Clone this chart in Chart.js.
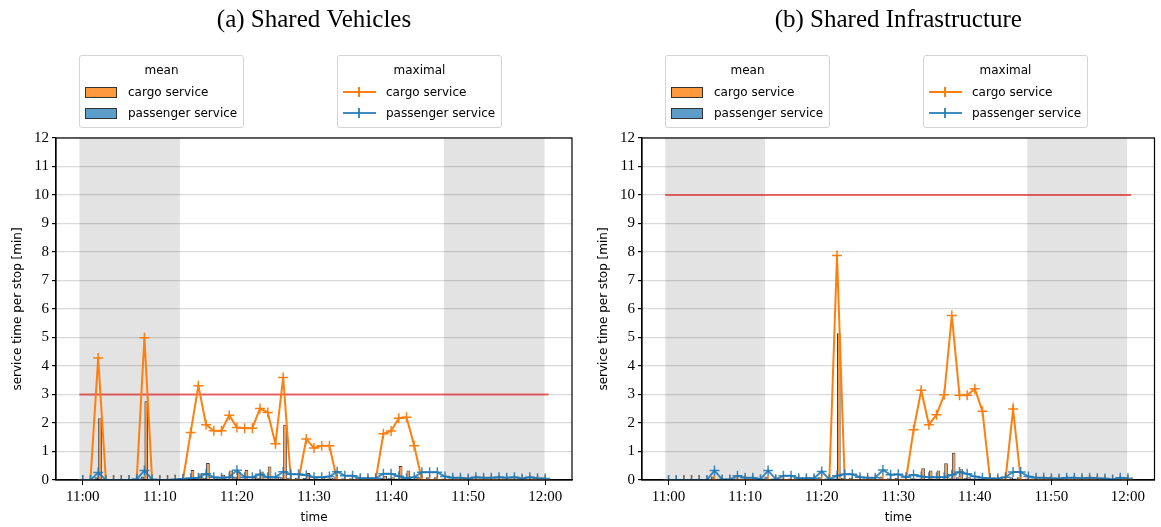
<!DOCTYPE html>
<html>
<head>
<meta charset="utf-8">
<script src="https://cdn.jsdelivr.net/npm/chart.js@4.4.1/dist/chart.umd.min.js"></script>
<style>
  body { margin: 0; background: #fff; width: 1161px; height: 527px; overflow: hidden; }
  .box { position: absolute; top: 0; height: 527px; }
  .leg { position: absolute; box-sizing: border-box; border: 1px solid #d4d4d4; border-radius: 3px;
         background: #fff; font: 12px "DejaVu Sans", sans-serif; color: #000; }
  .leg .lt { position: absolute; left: 0; right: 0; top: 6px; text-align: center; line-height: 16px; }
  .leg .li { position: absolute; left: 48px; line-height: 16px; white-space: nowrap; }
  .leg .patch { position: absolute; left: 5px; width: 32px; height: 11px; box-sizing: border-box; border: 1px solid #333; }
  .leg .ln { position: absolute; left: 5px; width: 33px; height: 2px; }
  .leg .vt { position: absolute; width: 2px; height: 10px; }
</style>
</head>
<body>
<div class="box" style="left:0;width:586px"><canvas id="left" width="586" height="527"></canvas></div>
<div class="box" style="left:586px;width:575px"><canvas id="right" width="575" height="527"></canvas></div>

<script>
// time axis: minutes after 11:00
const minutes = [0,1,2,3,4,5,6,7,8,9,10,11,12,13,14,15,16,17,18,19,20,21,22,23,24,25,26,27,28,29,
                 30,31,32,33,34,35,36,37,38,39,40,41,42,43,44,45,46,47,48,49,50,51,52,53,54,55,56,57,58,59,60];
const tickMinutes = [0, 10, 20, 30, 40, 50, 60];
const tickLabels = ["11:00", "11:10", "11:20", "11:30", "11:40", "11:50", "12:00"];

const legendTitles = ["mean", "maximal"];
const seriesNames = ["cargo service", "passenger service"];

// (a) Shared Vehicles
const titleA = "(a) Shared Vehicles";
const cargoMaxA = [0,0,4.28,0,0,0,0,0,4.99,0,
                   0,0,0,0,1.67,3.31,1.94,1.73,1.73,2.27,
                   1.84,1.82,1.82,2.51,2.37,1.27,3.6,0,0,1.44,
                   1.12,1.2,1.2,0,0,0,0,0,0,1.62,
                   1.72,2.17,2.2,1.2,0,0,0,0,0,0,
                   0,0,0,0,0,0,0,0,0,0,0];
const passMaxA = [0,0,0.26,0,0,0,0,0.03,0.33,0.02,
                  0,0,0.02,0.04,0.06,0.08,0.22,0.1,0.08,0.1,
                  0.34,0.1,0.1,0.2,0.1,0.1,0.29,0.2,0.2,0.17,
                  0.1,0.1,0.12,0.29,0.15,0.15,0.06,0.06,0.06,0.22,
                  0.22,0.13,0.06,0.1,0.27,0.27,0.27,0.12,0.08,0.08,
                  0.05,0.1,0.08,0.08,0.1,0.08,0.1,0.05,0.1,0.06,0.05];
const cargoMeanA = [0,0,2.17,0,0,0,0,0,2.76,0,
                    0,0,0,0,0.35,0.23,0.6,0.1,0.18,0.33,
                    0.3,0.35,0.15,0.3,0.47,0.1,1.94,0,0,0.25,
                    0.1,0.1,0.08,0,0,0,0,0,0,0.15,
                    0.1,0.49,0.33,0.1,0,0,0,0,0,0,
                    0,0,0,0,0,0,0,0,0,0,0];
const passMeanA = [0,0,0.1,0,0,0,0,0,0.12,0,
                   0,0,0,0,0.03,0.04,0.08,0.04,0.03,0.05,
                   0.12,0.05,0.04,0.08,0.05,0.05,0.1,0.08,0.08,0.07,
                   0.04,0.04,0.05,0.1,0.06,0.06,0.03,0.03,0.03,0.08,
                   0.08,0.05,0.03,0.04,0.1,0.1,0.1,0.05,0.03,0.03,
                   0.02,0.04,0.03,0.03,0.04,0.03,0.04,0.02,0.04,0.03,0.02];
const limitA = 3;

// (b) Shared Infrastructure
const titleB = "(b) Shared Infrastructure";
const cargoMaxB = [0,0,0,0,0,0,0,0,0,0,
                   0,0,0,0,0,0,0,0,0,0,
                   0,0,7.88,0,0,0,0,0,0,0,
                   0,0,1.76,3.15,1.94,2.29,2.99,5.77,2.97,2.97,
                   3.2,2.41,0,0,0,2.49,0,0,0,0,
                   0,0,0,0,0,0,0,0,0,0,0];
const passMaxB = [0,0,0,0,0,0,0.33,0.02,0.02,0.15,
                  0.08,0.08,0.03,0.33,0.03,0.15,0.15,0.06,0.06,0.06,
                  0.3,0.03,0.15,0.2,0.2,0.1,0.08,0.08,0.35,0.18,
                  0.2,0.1,0.18,0.12,0.1,0.1,0.1,0.18,0.28,0.22,
                  0.12,0.08,0.06,0.05,0.1,0.28,0.28,0.12,0.08,0.08,
                  0.06,0.05,0.08,0.08,0.06,0.08,0.06,0.05,0.02,0.08,0.06];
const cargoMeanB = [0,0,0,0,0,0,0,0,0,0,
                    0,0,0,0,0,0,0,0,0,0,
                    0,0,5.15,0,0,0,0,0,0,0,
                    0,0,0.05,0.41,0.33,0.33,0.59,0.96,0.38,0.1,
                    0.05,0.05,0,0,0,0.05,0,0,0,0,
                    0,0,0,0,0,0,0,0,0,0,0];
const passMeanB = [0,0,0,0,0,0,0.12,0,0,0.05,
                   0.03,0.03,0.01,0.12,0.01,0.05,0.05,0.02,0.02,0.02,
                   0.1,0.01,0.05,0.08,0.08,0.04,0.03,0.03,0.12,0.06,
                   0.07,0.04,0.06,0.05,0.04,0.04,0.04,0.06,0.1,0.08,
                   0.05,0.03,0.02,0.02,0.04,0.1,0.1,0.05,0.03,0.03,
                   0.02,0.02,0.03,0.03,0.02,0.03,0.02,0.02,0.01,0.03,0.02];
const limitB = 10;

// grey periods and extent of the limit line, in minutes
const shadeStarts = [-0.43, 46.85];
const shadeEnds = [12.6, 59.9];
const limitFrom = -0.43;
const limitTo = 60.43;

const ORANGE = "#ff7f0e";
const BLUE = "rgba(31,119,180,0.85)";
const BAR_ORANGE = "rgba(255,127,14,0.8)";
const BAR_BLUE = "rgba(31,119,180,0.72)";
const RED = "rgba(228,30,30,0.66)";

const serif = "'Liberation Serif', 'DejaVu Serif', serif";
const sans = "'DejaVu Sans', sans-serif";

const shadePlugin = {
    id: "shade",
    beforeDraw(chart) {
        const {ctx, chartArea, scales} = chart;
        ctx.save();
        ctx.fillStyle = "#e3e3e3";
        for (let i = 0; i < shadeStarts.length; i++) {
            const x1 = scales.x.getPixelForValue(shadeStarts[i]);
            const x2 = scales.x.getPixelForValue(shadeEnds[i]);
            ctx.fillRect(x1, chartArea.top, x2 - x1, chartArea.bottom - chartArea.top);
        }
        ctx.restore();
    }
};

const framePlugin = {
    id: "frame",
    afterDraw(chart) {
        const {ctx, chartArea} = chart;
        ctx.save();
        ctx.strokeStyle = "#000";
        ctx.lineWidth = 1.2;
        ctx.strokeRect(chartArea.left, chartArea.top, chartArea.right - chartArea.left, chartArea.bottom - chartArea.top);
        ctx.restore();
    }
};

function pts(values) {
    return minutes.map((m, i) => ({x: m, y: values[i]}));
}

function barPts(values) {
    return minutes.map((m, i) => ({x: m, y: values[i] > 0 ? values[i] : null}));
}

function makeChart(id, title, cargoMean, passMean, cargoMax, passMax, limit, rightPad) {
    return new Chart(document.getElementById(id), {
        type: "bar",
        data: {
            datasets: [
                {
                    type: "line", label: "limit",
                    data: [{x: limitFrom, y: limit}, {x: limitTo, y: limit}],
                    borderColor: RED, borderWidth: 2, pointRadius: 0, order: 6, clip: 0
                },
                {
                    type: "bar", label: seriesNames[0], data: barPts(cargoMean),
                    backgroundColor: BAR_ORANGE, borderColor: "rgba(0,0,0,0.75)", borderWidth: 1,
                    categoryPercentage: 0.96, barPercentage: 1, order: 5
                },
                {
                    type: "bar", label: seriesNames[1], data: barPts(passMean),
                    backgroundColor: BAR_BLUE, borderColor: "rgba(0,0,0,0.75)", borderWidth: 1,
                    categoryPercentage: 0.96, barPercentage: 1, order: 4
                },
                {
                    type: "line", label: seriesNames[0], data: pts(cargoMax),
                    borderColor: ORANGE, borderWidth: 2, tension: 0,
                    pointStyle: "cross", pointRadius: 5, pointBorderWidth: 1.5,
                    pointBorderColor: ORANGE, order: 3, clip: 0
                },
                {
                    type: "line", label: seriesNames[1], data: pts(passMax),
                    borderColor: BLUE, borderWidth: 2, tension: 0,
                    pointStyle: "cross", pointRadius: 5, pointBorderWidth: 1.5,
                    pointBorderColor: BLUE, order: 2, clip: 0
                }
            ]
        },
        options: {
            responsive: false,
            animation: false,
            devicePixelRatio: 1,
            layout: {padding: {left: 0, right: rightPad, top: 0, bottom: 0}},
            plugins: {
                legend: {display: false},
                tooltip: {enabled: false},
                title: {
                    display: true, text: title, color: "#000", fullSize: false,
                    font: {family: serif, size: 25, weight: "normal"},
                    padding: {top: 5, bottom: 103}
                }
            },
            scales: {
                x: {
                    type: "linear", min: -3.47, max: 63.47, offset: false,
                    afterBuildTicks: s => { s.ticks = tickMinutes.map(v => ({value: v})); },
                    afterFit: s => { s.height = 47; },
                    ticks: {
                        autoSkip: false, maxRotation: 0, color: "#000", padding: 3,
                        font: {family: serif, size: 15},
                        callback: (v, i) => tickLabels[i]
                    },
                    grid: {display: true, drawOnChartArea: false, offset: false, tickLength: 5, color: "#000", tickColor: "#000"},
                    border: {color: "#000", width: 1.2},
                    title: {display: true, text: "time", color: "#000", font: {family: sans, size: 12}, padding: {top: 0, bottom: 2}}
                },
                y: {
                    min: 0, max: 12,
                    afterFit: s => { s.width = 56; },
                    ticks: {stepSize: 1, color: "#000", padding: 3, font: {family: serif, size: 15}},
                    grid: {color: "rgba(0,0,0,0.15)", lineWidth: 1.2, tickColor: "#000", tickLength: 4},
                    border: {color: "#000", width: 1.2},
                    title: {display: true, text: "service time per stop [min]", color: "#000", font: {family: sans, size: 12}, padding: {top: 11, bottom: 0}}
                }
            }
        },
        plugins: [shadePlugin, framePlugin]
    });
}

makeChart("left", titleA, cargoMeanA, passMeanA, cargoMaxA, passMaxA, limitA, 14);
makeChart("right", titleB, cargoMeanB, passMeanB, cargoMaxB, passMaxB, limitB, 3);

// legend boxes above each plot
function addLegends(offsetX) {
    const meanBox = document.createElement("div");
    meanBox.className = "leg";
    meanBox.style.cssText = `left:${79 + offsetX}px;top:55px;width:165px;height:73px`;
    let html = `<div class="lt">${legendTitles[0]}</div>`;
    [BAR_ORANGE, BAR_BLUE].forEach((c, i) => {
        const y = 31 + i * 21;
        html += `<span class="patch" style="top:${y}px;background:${c}"></span>`;
        html += `<div class="li" style="top:${y - 3}px">${seriesNames[i]}</div>`;
    });
    meanBox.innerHTML = html;
    document.body.appendChild(meanBox);

    const maxBox = document.createElement("div");
    maxBox.className = "leg";
    maxBox.style.cssText = `left:${337 + offsetX}px;top:55px;width:165px;height:73px`;
    html = `<div class="lt">${legendTitles[1]}</div>`;
    [ORANGE, BLUE].forEach((c, i) => {
        const y = 35 + i * 21;
        html += `<span class="ln" style="top:${y}px;background:${c}"></span>`;
        html += `<span class="vt" style="top:${y - 4}px;left:20px;background:${c}"></span>`;
        html += `<div class="li" style="top:${y - 7}px">${seriesNames[i]}</div>`;
    });
    maxBox.innerHTML = html;
    document.body.appendChild(maxBox);
}
addLegends(0);
addLegends(586);
</script>
</body>
</html>
